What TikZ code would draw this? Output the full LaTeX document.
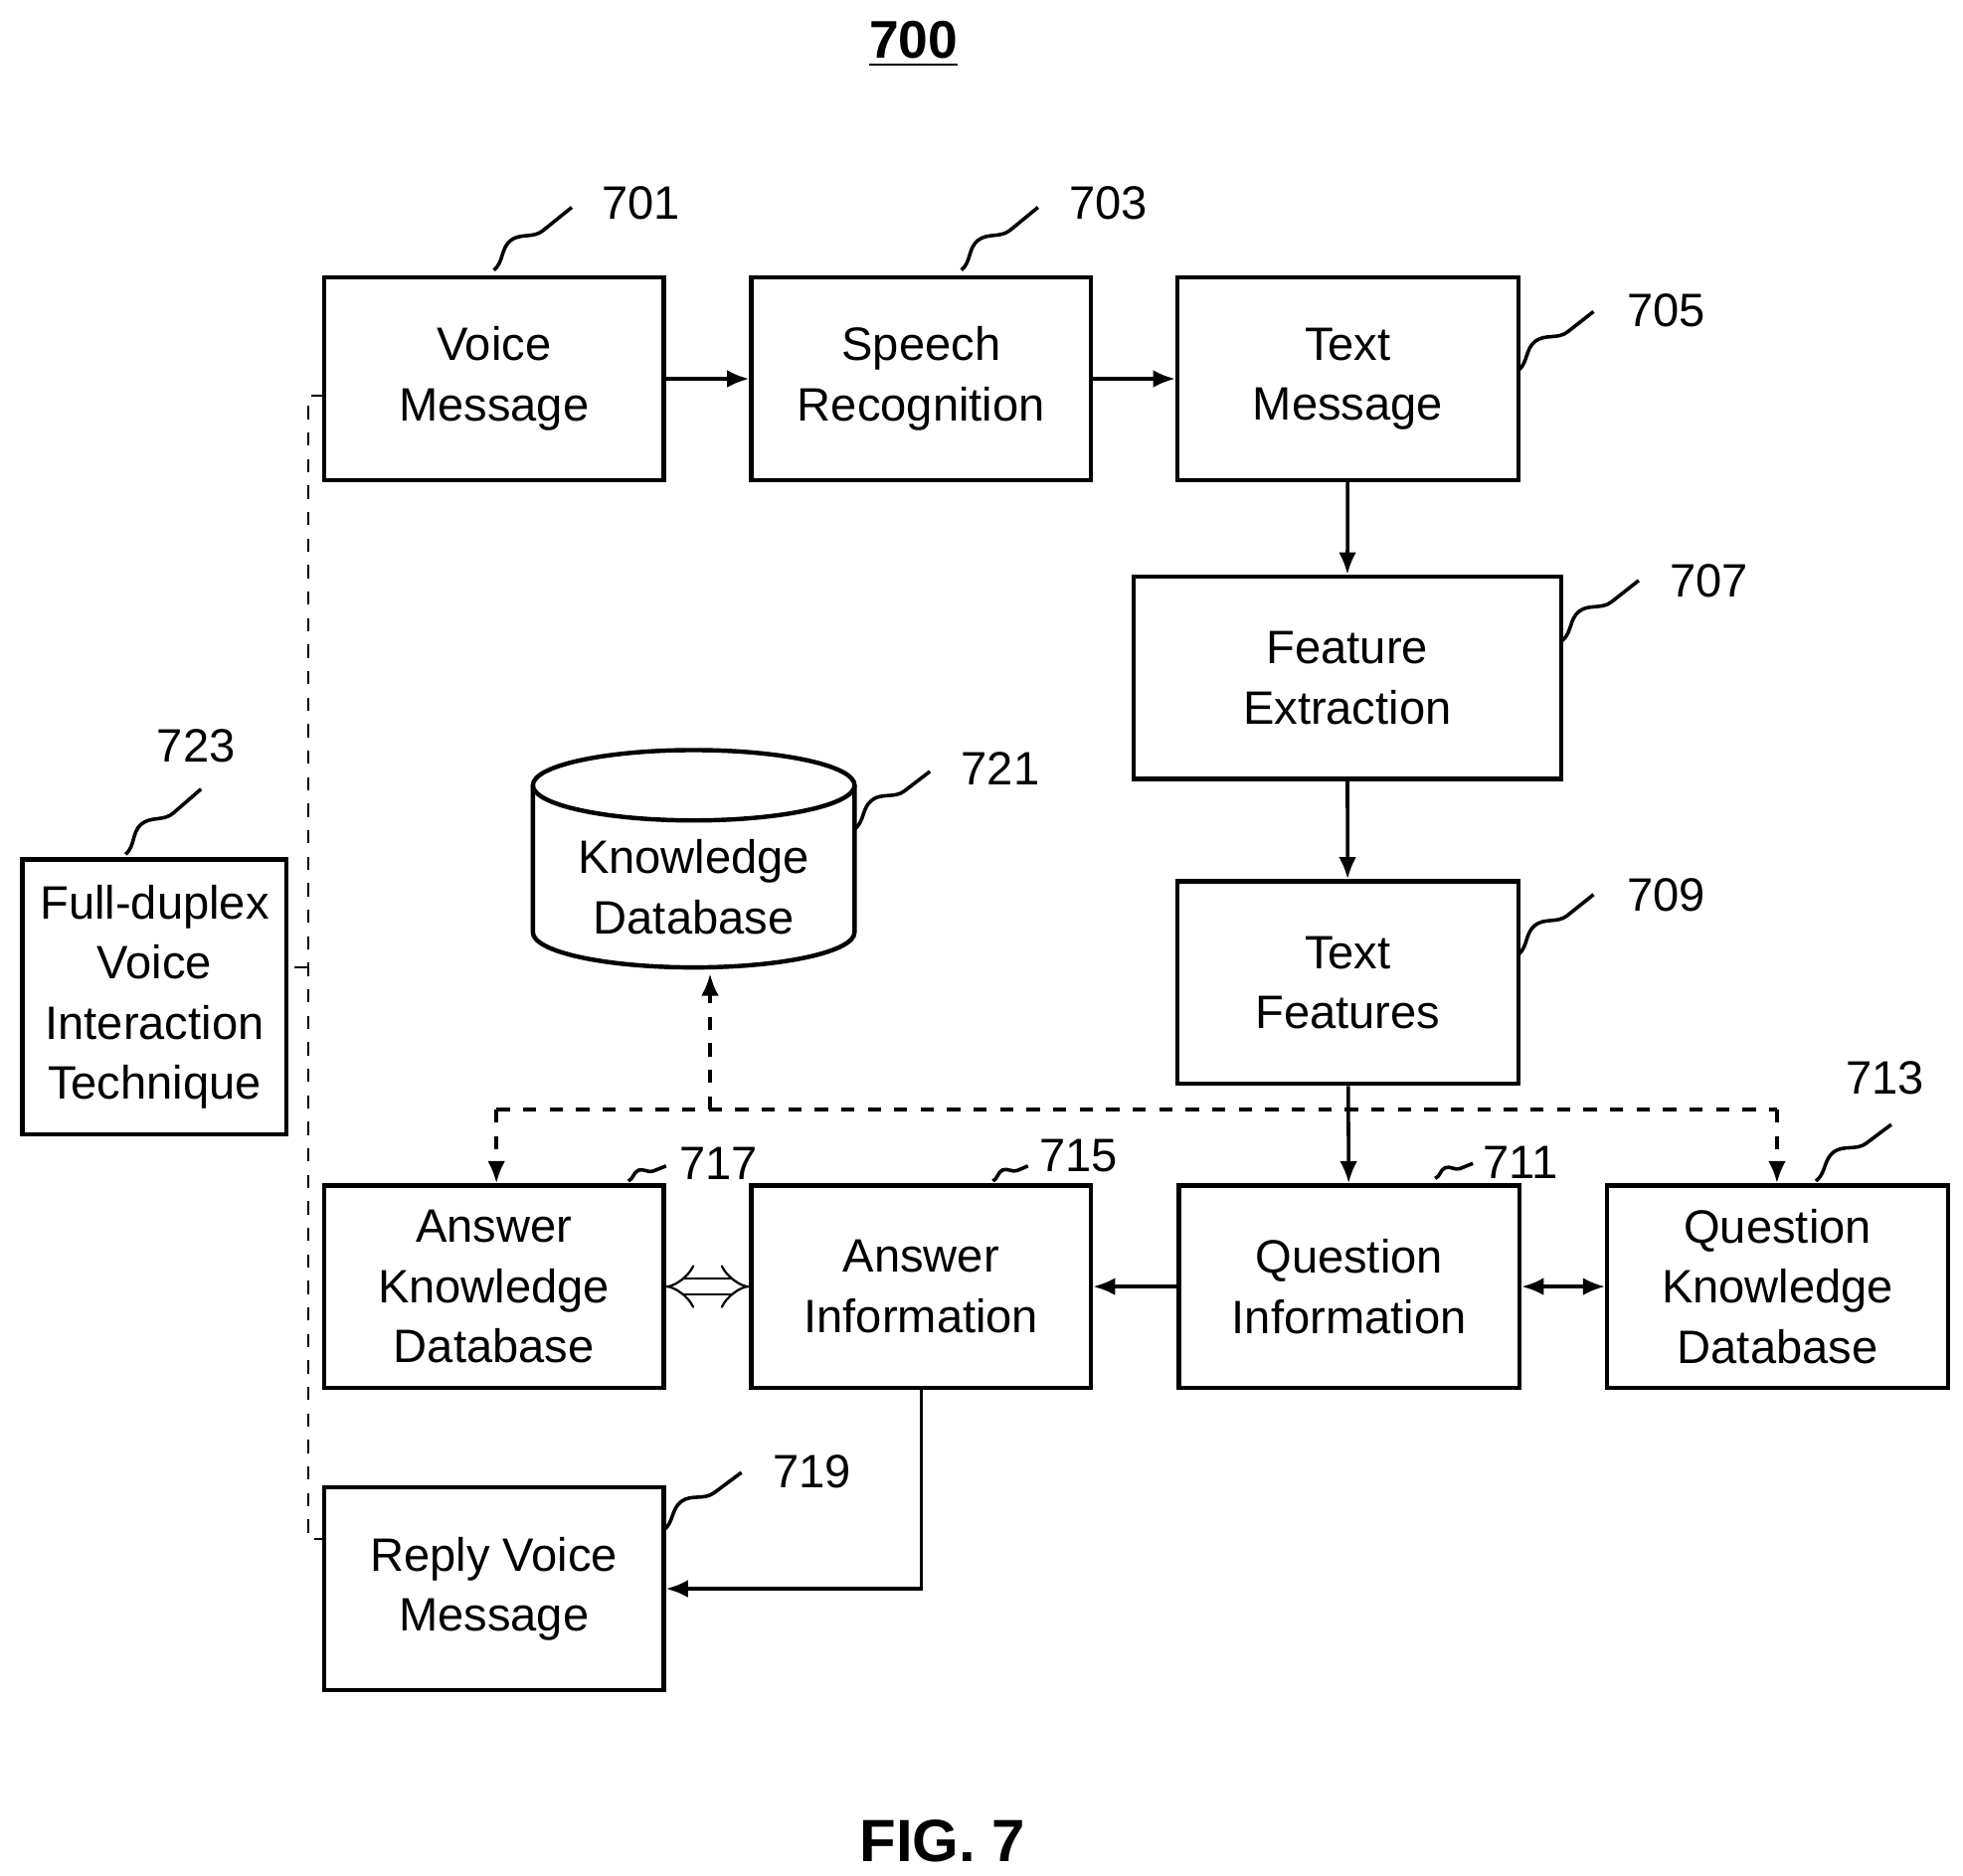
\documentclass[tikz,border=0pt]{standalone}
\usepackage{fontspec}
\setmainfont{Liberation Sans}
\usetikzlibrary{arrows.meta,decorations.pathmorphing}
\begin{document}
\begin{tikzpicture}[x=0.01cm,y=-0.01cm,
  box/.style={draw,line width=1pt,align=center,inner sep=0pt,font=\fontsize{10.6}{13.6}\selectfont},
  lbl/.style={font=\fontsize{10.6}{13}\selectfont},
  sq/.style={line width=0.8pt,decorate,decoration={snake,segment length=0.8cm,amplitude=0.1cm}},
  sqs/.style={line width=0.8pt,decorate,decoration={snake,segment length=0.34cm,amplitude=0.05cm}},
  ar/.style={line width=0.8pt,-{Latex[length=5pt,width=4pt]}},
  dar/.style={line width=0.8pt,dashed,-{Latex[length=5pt,width=4pt]}}]
\useasboundingbox (0,0) rectangle (1562,1493);
\newcommand\bx[6]{\node[box,minimum width=#4cm,minimum height=1.61cm] (#1) at (#2,#3) {#5};}
\bx{n701}{393}{301.5}{2.7}{Voice\\Message}{}
\bx{n703}{733}{301.5}{2.7}{Speech\\Recognition}{}
\bx{n705}{1072.5}{301.5}{2.71}{Text\\Message}{}
\bx{n707}{1072}{539.5}{3.4}{Feature\\Extraction}{}
\bx{n709}{1072.5}{782}{2.71}{Text\\Features}{}
\bx{n717}{393}{1024}{2.7}{Answer\\Knowledge\\Database}{}
\bx{n715}{733}{1024}{2.7}{Answer\\Information}{}
\bx{n711}{1073.5}{1024}{2.71}{Question\\Information}{}
\bx{n713}{1414.5}{1024}{2.71}{Question\\Knowledge\\Database}{}
\bx{n719}{393}{1264.5}{2.7}{Reply Voice\\Message}{}
\node[box,minimum width=2.1cm,minimum height=2.19cm] (n723) at (123,793.5) {Full-duplex\\Voice\\Interaction\\Technique};
% cylinder
\draw[line width=1pt] (552,625) ellipse [x radius=128,y radius=28];
\draw[line width=1pt] (424,625) -- (424,742) arc[start angle=180,end angle=0,x radius=128,y radius=28] -- (680,625);
\node[box,draw=none] (n721) at (552,706) {Knowledge\\Database};
% title
\node[font=\bfseries\fontsize{12}{14}\selectfont] (t) at (727,35) {\underline{700}};
\node[font=\bfseries\fontsize{13.5}{16}\selectfont] (fig) at (750,1465) {FIG. 7};
% connectors
\draw[ar] (n701) -- (n703);
\draw[ar] (n703) -- (n705);
\draw[ar] (n705) -- (n707);
\draw[ar] (n707) -- (n709);
\draw[ar] (n709) -- (n711);
\draw[ar] (n711) -- (n715);
\draw[line width=0.8pt,{Latex[length=5pt,width=4pt]}-{Latex[length=5pt,width=4pt]}] (n711) -- (n713);
\draw[line width=0.5pt,double,double distance=3pt,{Implies}-{Implies}] (n717) -- (n715);
\draw[ar] (n715.south) |- (n719.east);
\coordinate (dl) at (395,883);
\coordinate (dr) at (1414,883);
\coordinate (dm) at (565,883);
\draw[line width=0.8pt,dashed] (dl) -- (dr);
\draw[dar] (dl) -- (n717.north-|dl);
\draw[dar] (dr) -- (n713.north-|dr);
\draw[dar] (dm) -- (565,775);
% bracket
\draw[line width=0.5pt,dashed] (258,315) -- (245,315) -- (245,1225) -- (258,1225);
\draw[line width=0.5pt,dashed] (245,770) -- (n723.east|-245,770);
% labels
\node[lbl] (l701) at (510,162) {701}; \draw[sq] (393,215) -- (455,165);
\node[lbl] (l703) at (882,162) {703}; \draw[sq] (765,215) -- (826,165);
\node[lbl] (l705) at (1326,247) {705}; \draw[sq] (1208,295) -- (1268,248);
\node[lbl] (l707) at (1360,462) {707}; \draw[sq] (1243,510) -- (1304,462);
\node[lbl] (l709) at (1326,712) {709}; \draw[sq] (1208,760) -- (1268,712);
\node[lbl] (l721) at (796,612) {721}; \draw[sq] (680,660) -- (740,614);
\node[lbl] (l723) at (156,594) {723}; \draw[sq] (100,680) -- (160,628);
\node[lbl] (l713) at (1500,858) {713}; \draw[sq] (1445,940) -- (1505,895);
\node[lbl] (l711) at (1210,925) {711}; \draw[sqs] (1142,938) -- (1172,926);
\node[lbl] (l715) at (858,920) {715}; \draw[sqs] (790,940) -- (818,928);
\node[lbl] (l717) at (572,926) {717}; \draw[sqs] (500,940) -- (530,928);
\node[lbl] (l719) at (646,1171) {719}; \draw[sq] (528,1218) -- (590,1172);
\end{tikzpicture}
\end{document}
